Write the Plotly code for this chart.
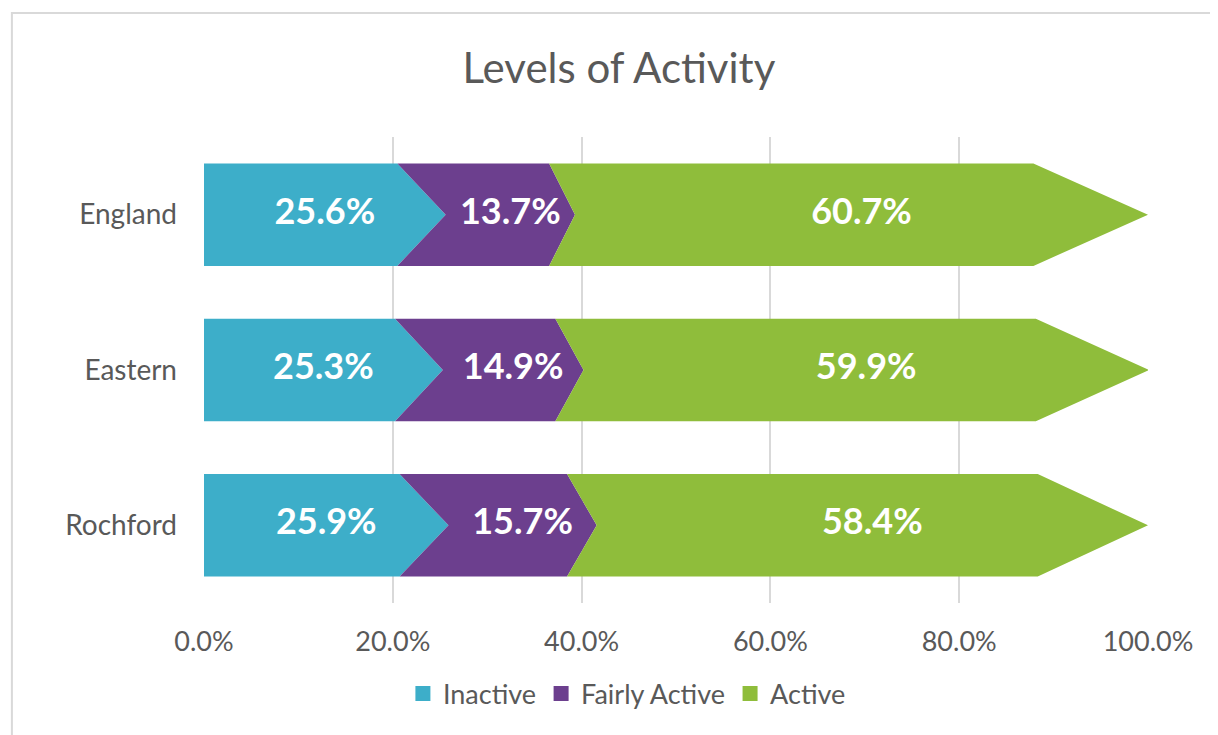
import plotly.graph_objects as go

categories = ["England", "Eastern", "Rochford"]
series_names = ["Inactive", "Fairly Active", "Active"]
inactive = [25.6, 25.3, 25.9]
fairly_active = [13.7, 14.9, 15.7]
active = [60.7, 59.9, 58.4]
x_ticks = [0, 20, 40, 60, 80, 100]
x_ticklabels = ["0.0%", "20.0%", "40.0%", "60.0%", "80.0%", "100.0%"]

colors = ["#3DAEC9", "#6C3F8E", "#8FBD3B"]
series_values = [inactive, fairly_active, active]
FONT = "Lato"
GREY = "#595959"

n = len(categories)
ypos = [n - 1 - i for i in range(n)]  # England on top
half = 0.33
tip_ratio = 0.2

fig = go.Figure()

for si, (name, vals) in enumerate(zip(series_names, series_values)):
    xs, ys = [], []
    for ci in range(n):
        start = sum(series_values[k][ci] for k in range(si))
        end = start + vals[ci]
        d = tip_ratio * vals[ci]
        dprev = tip_ratio * series_values[si - 1][ci] if si > 0 else 0.0
        yc = ypos[ci]
        top, bot = yc + half, yc - half
        pts = [
            (start - dprev, top),
            (end - d, top),
            (end, yc),
            (end - d, bot),
            (start - dprev, bot),
            (start, yc),
        ]
        for px, py in pts:
            xs.append(px)
            ys.append(py)
        xs.append(None)
        ys.append(None)
    fig.add_trace(go.Scatter(
        x=xs, y=ys, mode="lines", fill="toself", fillcolor=colors[si],
        line=dict(width=0, color=colors[si]), showlegend=False, hoverinfo="skip",
    ))
    # data labels
    lx, ly, lt = [], [], []
    for ci in range(n):
        start = sum(series_values[k][ci] for k in range(si))
        lx.append(start + vals[ci] / 2)
        ly.append(ypos[ci])
        lt.append(f"<b>{vals[ci]:.1f}%</b>")
    fig.add_trace(go.Scatter(
        x=lx, y=ly, mode="text", text=lt, showlegend=False, hoverinfo="skip",
        textfont=dict(family=FONT, size=36, color="white"),
    ))
    # legend entry
    fig.add_trace(go.Scatter(
        x=[None], y=[None], name=name, mode="markers",
        marker=dict(color=colors[si], symbol="square", size=15),
        showlegend=True,
    ))

fig.update_layout(
    width=1218, height=735,
    margin=dict(l=196, r=78, t=129, b=140),
    paper_bgcolor="white", plot_bgcolor="white",
    font=dict(family=FONT, color=GREY, size=26),
    title=dict(text="Levels of Activity", x=0.5016, xref="container", xanchor="center",
               y=0.918, yref="container", yanchor="middle",
               font=dict(family=FONT, size=42, color=GREY)),
    xaxis=dict(range=[0, 100], tickvals=x_ticks, ticktext=x_ticklabels,
               showgrid=True, gridcolor="#D9D9D9", gridwidth=1.5, zeroline=False,
               showline=False, ticks="", ticklabelstandoff=20,
               tickfont=dict(family=FONT, size=27, color=GREY), fixedrange=True),
    yaxis=dict(range=[-0.5, 2.5], tickvals=ypos, ticktext=categories,
               showgrid=False, zeroline=False, showline=False, ticks="",
               ticklabelstandoff=26,
               tickfont=dict(family=FONT, size=28, color=GREY), fixedrange=True),
    legend=dict(orientation="h", x=0.448, xanchor="center", y=-0.195, yanchor="middle",
                font=dict(family=FONT, size=27, color=GREY), traceorder="normal",
                itemsizing="trace"),
    showlegend=True,
    shapes=[dict(type="rect", xref="paper", yref="paper",
                 x0=-0.2035, x1=1.3, y0=-0.5, y1=1.266,
                 line=dict(color="#D9D9D9", width=2), fillcolor="rgba(0,0,0,0)",
                 layer="below")],
)

fig.write_html("out.html")
